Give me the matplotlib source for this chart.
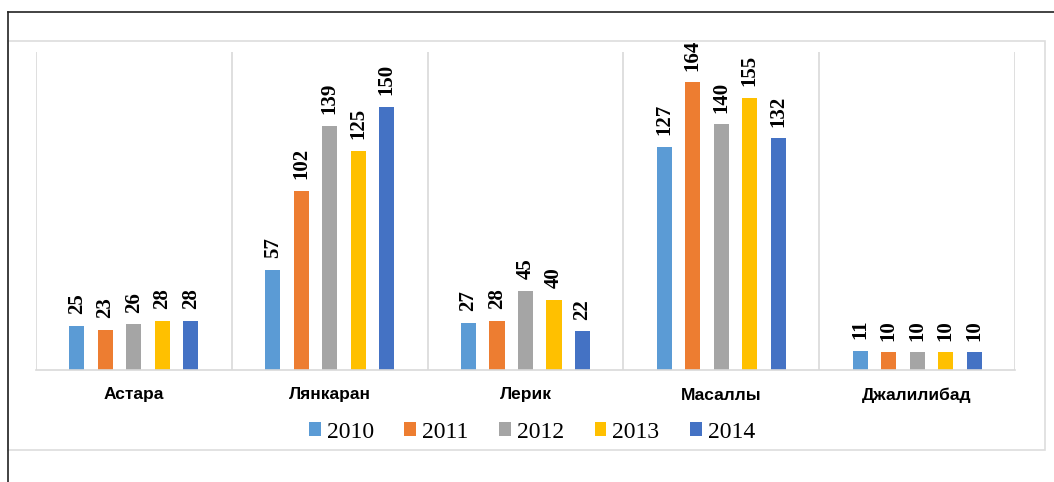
import matplotlib
matplotlib.use("Agg")
import matplotlib.pyplot as plt
import numpy as np
from matplotlib.lines import Line2D
from matplotlib.patches import Rectangle

# data
regions = ["Астара", "Лянкаран", "Лерик", "Масаллы", "Джалилибад"]
years = ["2010", "2011", "2012", "2013", "2014"]
v2010 = [25, 57, 27, 127, 11]
v2011 = [23, 102, 28, 164, 10]
v2012 = [26, 139, 45, 140, 10]
v2013 = [28, 125, 40, 155, 10]
v2014 = [28, 150, 22, 132, 10]
series = [v2010, v2011, v2012, v2013, v2014]
colors = ["#5B9BD5", "#ED7D31", "#A5A5A5", "#FFC000", "#4472C4"]

W, H = 1054, 482
fig = plt.figure(figsize=(W / 100, H / 100), dpi=100)

# outer frame (dark) and chart box (light grey)
fig.add_artist(Line2D([8 / W, 1], [1 - 12 / H, 1 - 12 / H], color="#222222", lw=1.2))
fig.add_artist(Line2D([8 / W, 8 / W], [0, 1 - 12 / H], color="#222222", lw=1.2))
fig.add_artist(Rectangle((8 / W, 1 - 450 / H), (1045 - 8) / W, (450 - 41) / H,
                         fill=False, edgecolor="#dddddd", lw=1.2))

x0, x1, ybase, ytop = 36, 1015, 370, 52
ax = fig.add_axes([x0 / W, 1 - ybase / H, (x1 - x0) / W, (ybase - ytop) / H])
ax.set_xlim(0, 5)
ax.set_ylim(0, 181.3)
for s in ["top", "right", "left"]:
    ax.spines[s].set_visible(False)
ax.spines["bottom"].set_color("#d9d9d9")
ax.spines["bottom"].set_linewidth(1.2)
ax.set_xticks([])
ax.set_yticks([])
for xv in range(6):
    ax.axvline(xv, color="#d9d9d9", lw=1.2, zorder=0)

centers = np.arange(len(regions)) + 0.5
step = 0.1455
bw = 0.077
for i, vals in enumerate(series):
    xs = centers + (i - 2) * step
    bars = ax.bar(xs, vals, width=bw, color=colors[i], label=years[i], zorder=2)
    for x, v in zip(xs, vals):
        ax.annotate(str(v), (x, v), xytext=(0, 8.5), textcoords="offset points",
                    rotation=90, ha="center", va="bottom", fontsize=15,
                    fontweight="bold", family="Liberation Serif")

for c, name in zip(centers, regions):
    ax.text(c, -25 / (ybase - ytop) * 181.3, name, ha="center", va="center",
            fontsize=12.5, fontweight="bold", family="Liberation Sans")

fig.legend(loc="center", bbox_to_anchor=(532 / W, 1 - 432 / H), ncol=5,
           frameon=False, handlelength=0.5, handleheight=0.5,
           handletextpad=0.25, columnspacing=1.3,
           prop={"family": "Liberation Serif", "size": 17})

fig.savefig("out.png", dpi=100)
